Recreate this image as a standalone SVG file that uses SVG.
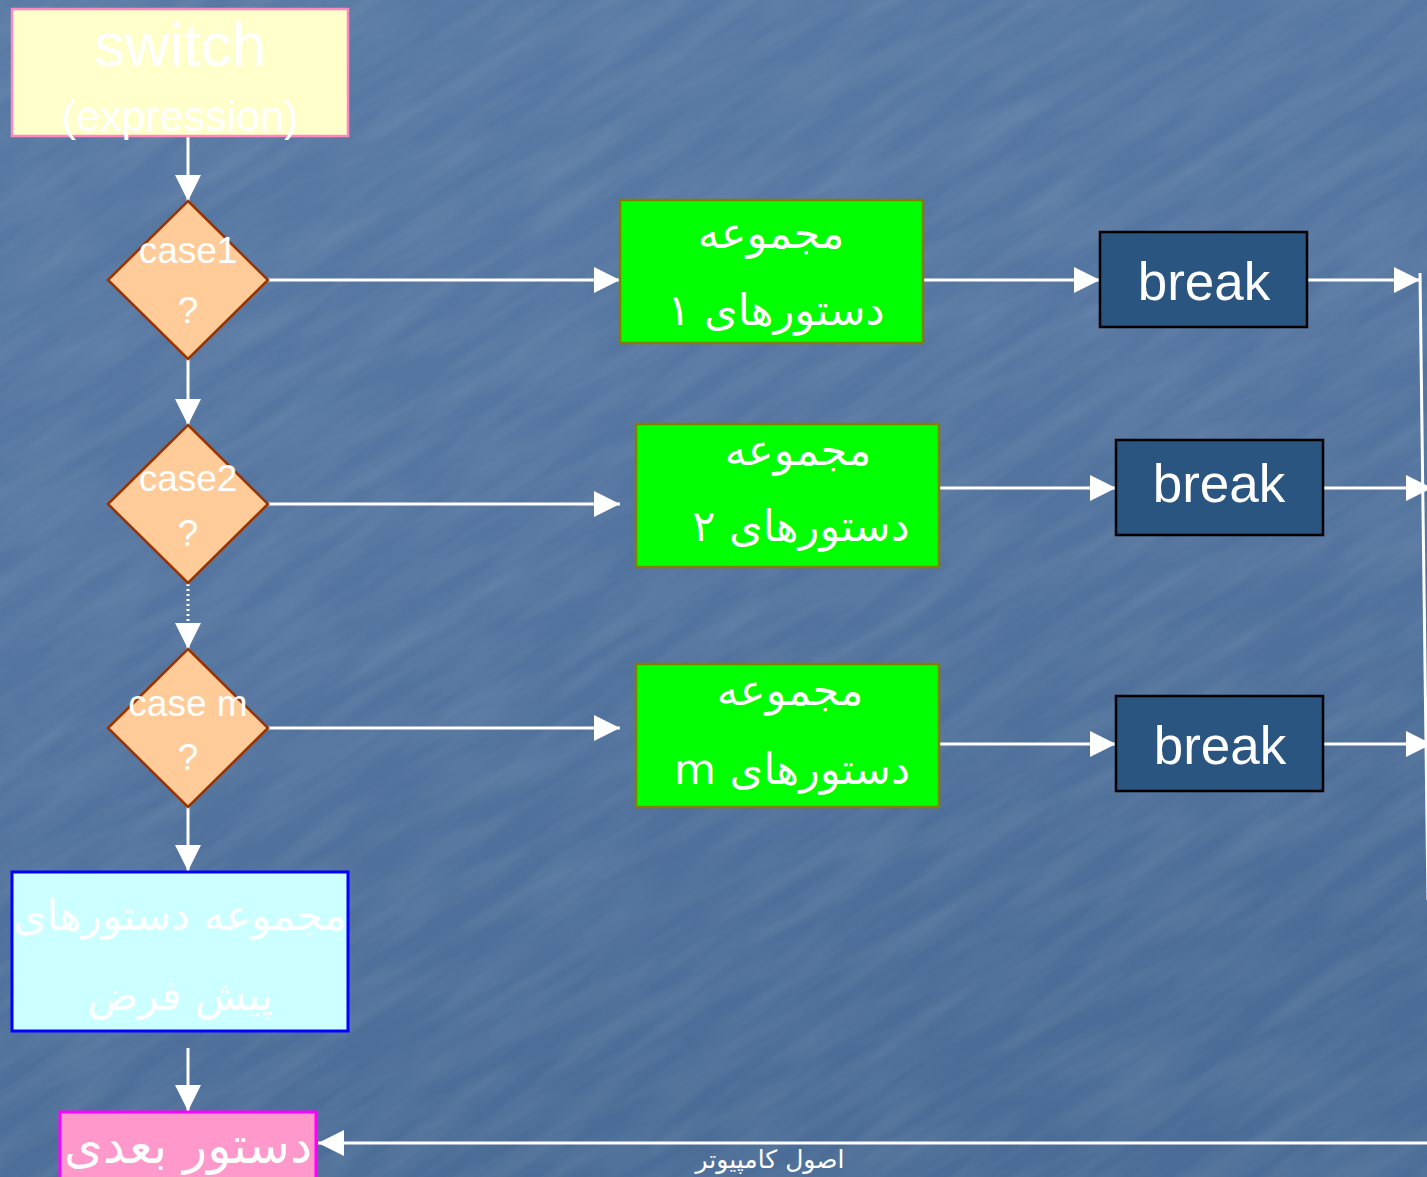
<svg xmlns="http://www.w3.org/2000/svg" width="1427" height="1177" viewBox="0 0 1427 1177">
  <defs>
    <linearGradient id="bg" x1="0" y1="0" x2="0.3" y2="1">
      <stop offset="0" stop-color="#5779a3"/>
      <stop offset="0.5" stop-color="#5475a0"/>
      <stop offset="1" stop-color="#4a6c96"/>
    </linearGradient>
    <filter id="grain" x="0" y="0" width="100%" height="100%">
      <feTurbulence type="fractalNoise" baseFrequency="0.008 0.05" numOctaves="3" seed="7" result="n"/>
      <feColorMatrix in="n" type="matrix" values="0 0 0 0 1  0 0 0 0 1  0 0 0 0 1  0 0 0 0.4 -0.12" result="w"/>
      <feComposite in="w" in2="SourceGraphic" operator="in"/>
    </filter>
    <clipPath id="page"><rect x="0" y="0" width="1427" height="1177"/></clipPath>
    <marker id="arr" viewBox="0 0 26 26" refX="26" refY="13" markerWidth="26" markerHeight="26" markerUnits="userSpaceOnUse" orient="auto">
      <path d="M0,0 L26,13 L0,26 Z" fill="#ffffff"/>
    </marker>
  </defs>
  <style>
    .line { stroke: #ffffff; stroke-width: 3; fill: none; }
    .dot { stroke: #ffffff; stroke-width: 3; fill: none; stroke-dasharray: 2 3; }
    .txt { fill: #ffffff; font-family: "Liberation Sans", Arial, sans-serif; text-anchor: middle; }
    .fa { fill: #ffffff; font-family: "DejaVu Sans", "Noto Sans", sans-serif; text-anchor: middle; direction: rtl; }
    .diamond { fill: #ffcc99; stroke: #993300; stroke-width: 2.5; }
    .green { fill: #00ff00; stroke: #808000; stroke-width: 2.5; }
    .brk { fill: #2b5581; stroke: #000000; stroke-width: 2.5; }
  </style>

  <!-- background with diagonal streaked texture -->
  <rect x="0" y="0" width="1427" height="1177" fill="url(#bg)"/>
  <g clip-path="url(#page)" opacity="0.38">
    <g transform="rotate(-32 713 588)">
      <rect x="-500" y="-500" width="2427" height="2177" fill="#7b9cc4" filter="url(#grain)"/>
    </g>
  </g>

  <!-- connectors -->
  <g id="connectors">
    <line class="line" x1="188" y1="136" x2="188" y2="201" marker-end="url(#arr)"/>
    <line class="line" x1="188" y1="359" x2="188" y2="425" marker-end="url(#arr)"/>
    <line class="dot" x1="188" y1="584" x2="188" y2="632"/>
    <line class="line" x1="188" y1="632" x2="188" y2="649" marker-end="url(#arr)"/>
    <line class="line" x1="188" y1="807" x2="188" y2="871" marker-end="url(#arr)"/>
    <line class="line" x1="188" y1="1048" x2="188" y2="1111" marker-end="url(#arr)"/>

    <line class="line" x1="268" y1="280" x2="620" y2="280" marker-end="url(#arr)"/>
    <line class="line" x1="268" y1="504" x2="620" y2="504" marker-end="url(#arr)"/>
    <line class="line" x1="268" y1="728" x2="620" y2="728" marker-end="url(#arr)"/>

    <line class="line" x1="923" y1="280" x2="1100" y2="280" marker-end="url(#arr)"/>
    <line class="line" x1="939" y1="488" x2="1116" y2="488" marker-end="url(#arr)"/>
    <line class="line" x1="939" y1="744" x2="1116" y2="744" marker-end="url(#arr)"/>

    <line class="line" x1="1307" y1="280" x2="1420" y2="280" marker-end="url(#arr)"/>
    <line class="line" x1="1323" y1="488" x2="1432" y2="488" marker-end="url(#arr)"/>
    <line class="line" x1="1323" y1="744" x2="1432" y2="744" marker-end="url(#arr)"/>

    <line class="line" x1="1420" y1="273" x2="1428" y2="900"/>
    <line class="line" x1="1427" y1="1143" x2="318" y2="1143" marker-end="url(#arr)"/>
  </g>

  <!-- switch (expression) -->
  <g id="switch">
    <rect x="12" y="9" width="336" height="127" fill="#ffffcc" stroke="#ff88c0" stroke-width="2.5"/>
    <text class="txt" x="180" y="66" font-size="62">switch</text>
    <text class="txt" x="180" y="131" font-size="43">(expression)</text>
  </g>

  <!-- decision nodes -->
  <g id="case1">
    <polygon class="diamond" points="188,201 268,280 188,359 108,280"/>
    <text class="txt" x="188" y="263" font-size="37">case1</text>
    <text class="txt" x="188" y="323" font-size="37">?</text>
  </g>
  <g id="case2">
    <polygon class="diamond" points="188,425 268,504 188,583 108,504"/>
    <text class="txt" x="188" y="491" font-size="37">case2</text>
    <text class="txt" x="188" y="546" font-size="37">?</text>
  </g>
  <g id="casem">
    <polygon class="diamond" points="188,649 268,728 188,807 108,728"/>
    <text class="txt" x="188" y="716" font-size="37">case m</text>
    <text class="txt" x="188" y="770" font-size="37">?</text>
  </g>

  <!-- statement groups -->
  <g id="stmts1">
    <rect class="green" x="620" y="200" width="303" height="143"/>
    <text class="fa" x="771" y="248" font-size="43">مجموعه</text>
    <text class="fa" x="776" y="325" font-size="43">دستورهای ۱</text>
  </g>
  <g id="stmts2">
    <rect class="green" x="636" y="424" width="303" height="143"/>
    <text class="fa" x="798" y="465" font-size="43">مجموعه</text>
    <text class="fa" x="801" y="541" font-size="43">دستورهای ۲</text>
  </g>
  <g id="stmtsm">
    <rect class="green" x="636" y="664" width="303" height="143"/>
    <text class="fa" x="790" y="705" font-size="43">مجموعه</text>
    <text class="fa" x="792" y="784" font-size="43">دستورهای m</text>
  </g>

  <!-- break nodes -->
  <g id="break1">
    <rect class="brk" x="1100" y="232" width="207" height="95"/>
    <text class="txt" x="1204" y="300" font-size="53">break</text>
  </g>
  <g id="break2">
    <rect class="brk" x="1116" y="440" width="207" height="95"/>
    <text class="txt" x="1219" y="502" font-size="53">break</text>
  </g>
  <g id="breakm">
    <rect class="brk" x="1116" y="696" width="207" height="95"/>
    <text class="txt" x="1220" y="764" font-size="53">break</text>
  </g>

  <!-- default statements -->
  <g id="default">
    <rect x="12" y="872" width="336" height="159" fill="#ccffff" stroke="#0000ff" stroke-width="3"/>
    <text class="fa" x="180" y="930" font-size="42">مجموعه دستورهای</text>
    <text class="fa" x="180" y="1010" font-size="42">پیش فرض</text>
  </g>

  <!-- next statement -->
  <g id="next">
    <rect x="60" y="1112" width="256" height="75" fill="#ff99cc" stroke="#ff00ff" stroke-width="3"/>
    <text class="fa" x="188" y="1163" font-size="50">دستور بعدی</text>
  </g>

  <!-- footer -->
  <text class="fa" x="770" y="1168" font-size="25">اصول کامپیوتر</text>
</svg>
